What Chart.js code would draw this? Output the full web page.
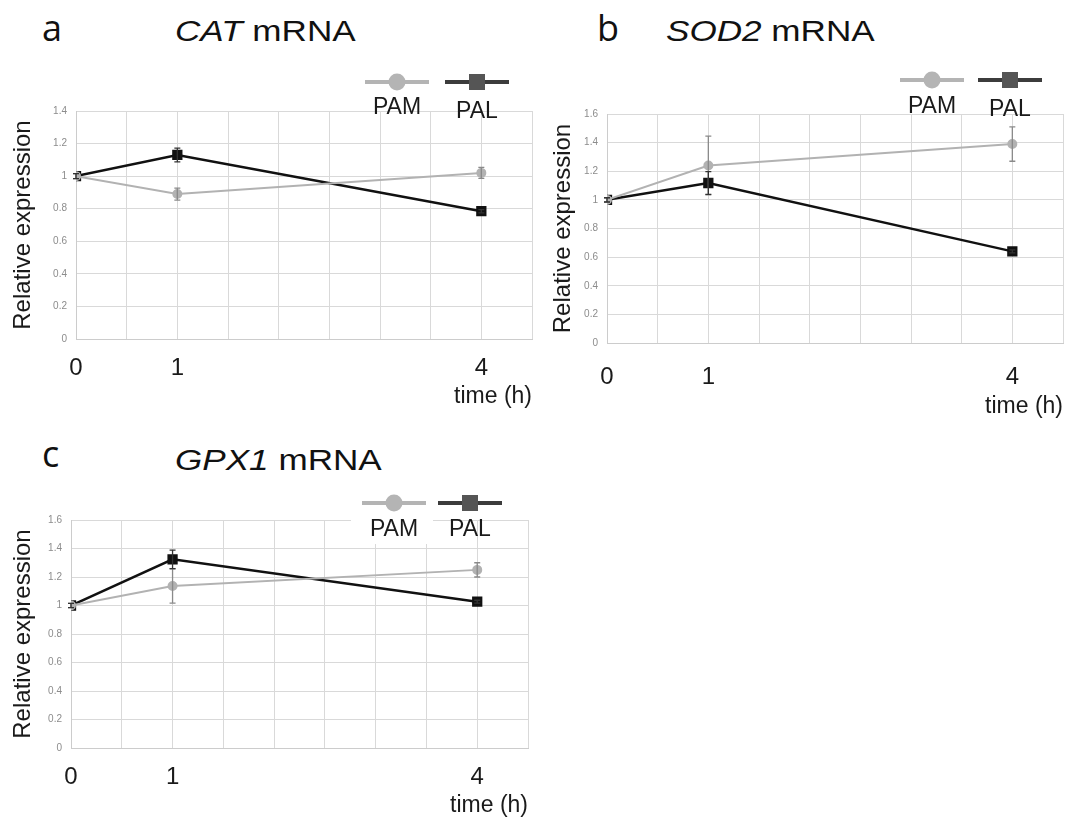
<!DOCTYPE html>
<html>
<head>
<meta charset="utf-8">
<script src="https://cdn.jsdelivr.net/npm/chart.js@4.4.1/dist/chart.umd.min.js"></script>
<style>
    html, body { margin: 0; padding: 0; background: #fff; }
    body { width: 1083px; height: 819px; position: relative; overflow: hidden; }
    .panel { position: absolute; }
    .letter { position: absolute; font-family: "Open Sans", sans-serif; font-size: 36px; line-height: 1; color: #111; }
    .title { position: absolute; font-family: "Liberation Sans", Arial, sans-serif; font-size: 30px; line-height: 1; color: #111;
             white-space: nowrap; transform: scaleX(1.17); transform-origin: left top; }
</style>
</head>
<body>

<div class="letter" style="left:42px;top:10px">a</div>
<div class="title" style="left:175px;top:16px"><i>CAT</i> mRNA</div>
<div class="letter" style="left:597px;top:10px">b</div>
<div class="title" style="left:666px;top:16px"><i>SOD2</i> mRNA</div>
<div class="letter" style="left:42px;top:436px">c</div>
<div class="title" style="left:175px;top:445px"><i>GPX1</i> mRNA</div>

<div class="panel" style="left:0;top:0"><canvas id="chartA" width="540" height="410"></canvas></div>
<div class="panel" style="left:540px;top:0"><canvas id="chartB" width="543" height="420"></canvas></div>
<div class="panel" style="left:0;top:430px"><canvas id="chartC" width="540" height="389"></canvas></div>

<script>
// data
var timePoints = [0, 1, 4];
var xTickLabels = ['0', '1', '4'];
var seriesNames = ['PAM', 'PAL'];

var catPAM = [1.00, 0.89, 1.02];
var catPAMErr = [0.015, 0.037, 0.034];
var catPAL = [1.00, 1.13, 0.785];
var catPALErr = [0.015, 0.042, 0.01];

var sodPAM = [1.00, 1.24, 1.39];
var sodPAMErr = [0.015, 0.205, 0.12];
var sodPAL = [1.00, 1.118, 0.64];
var sodPALErr = [0.015, 0.08, 0.01];

var gpxPAM = [1.00, 1.137, 1.25];
var gpxPAMErr = [0.015, 0.12, 0.05];
var gpxPAL = [1.00, 1.324, 1.027];
var gpxPALErr = [0.015, 0.065, 0.01];

var FONT = '"Liberation Sans", Arial, sans-serif';
var PAM_COLOR = '#b2b2b2';
var PAL_COLOR = '#111111';

function toPoints(values) {
    return values.map(function (v, i) { return { x: timePoints[i], y: v }; });
}

// vertical error bars with caps
var errorBars = {
    id: 'errorBars',
    afterDatasetsDraw: function (chart) {
        var ctx = chart.ctx;
        var yScale = chart.scales.y;
        chart.data.datasets.forEach(function (ds, di) {
            var meta = chart.getDatasetMeta(di);
            ctx.save();
            ctx.strokeStyle = ds.errorColor;
            ctx.lineWidth = 1.3;
            meta.data.forEach(function (pt, i) {
                var v = ds.data[i].y;
                var e = ds.errors[i];
                var top = yScale.getPixelForValue(v + e);
                var bot = yScale.getPixelForValue(v - e);
                ctx.beginPath();
                ctx.moveTo(pt.x, top);
                ctx.lineTo(pt.x, bot);
                ctx.moveTo(pt.x - 3, top);
                ctx.lineTo(pt.x + 3, top);
                ctx.moveTo(pt.x - 3, bot);
                ctx.lineTo(pt.x + 3, bot);
                ctx.stroke();
            });
            ctx.restore();
        });
    }
};

// legend with the label under its marker
var markerLegend = {
    id: 'markerLegend',
    afterDraw: function (chart, args, opts) {
        var ctx = chart.ctx;
        var area = chart.chartArea;
        var pamX = area.right + opts.pamDx;
        var palX = area.right + opts.palDx;
        var lineY = area.top + opts.lineDy;

        if (opts.whiteBox) {
            ctx.fillStyle = '#fff';
            ctx.fillRect(pamX - 43, area.top - 4, 82, 28);
        }

        ctx.save();
        ctx.lineWidth = 4;
        ctx.strokeStyle = '#b4b4b4';
        ctx.beginPath();
        ctx.moveTo(pamX - 32, lineY);
        ctx.lineTo(pamX + 32, lineY);
        ctx.stroke();
        ctx.fillStyle = '#b4b4b4';
        ctx.beginPath();
        ctx.arc(pamX, lineY, 8.5, 0, Math.PI * 2);
        ctx.fill();

        ctx.strokeStyle = '#3c3c3c';
        ctx.beginPath();
        ctx.moveTo(palX - 32, lineY);
        ctx.lineTo(palX + 32, lineY);
        ctx.stroke();
        ctx.fillStyle = '#555';
        ctx.fillRect(palX - 8, lineY - 8, 16, 16);

        ctx.fillStyle = '#1a1a1a';
        ctx.font = '23px ' + FONT;
        ctx.textAlign = 'center';
        ctx.textBaseline = 'middle';
        ctx.fillText(seriesNames[0], pamX, area.top + opts.pamTextDy);
        ctx.fillText(seriesNames[1], palX, area.top + opts.palTextDy);
        ctx.restore();
    }
};

function makeChart(id, cfg) {
    var ctx = document.getElementById(id);
    return new Chart(ctx, {
        type: 'line',
        data: {
            datasets: [{
                label: seriesNames[0],
                data: toPoints(cfg.pam),
                errors: cfg.pamErr,
                errorColor: '#8a8a8a',
                borderColor: PAM_COLOR,
                backgroundColor: PAM_COLOR,
                borderWidth: 2,
                pointStyle: 'circle',
                pointRadius: 4,
                tension: 0
            }, {
                label: seriesNames[1],
                data: toPoints(cfg.pal),
                errors: cfg.palErr,
                errorColor: '#333',
                borderColor: PAL_COLOR,
                backgroundColor: PAL_COLOR,
                borderWidth: 2.5,
                pointStyle: 'rect',
                pointRadius: 5.5,
                tension: 0
            }]
        },
        options: {
            responsive: false,
            animation: false,
            events: [],
            layout: {
                padding: { left: 6, top: cfg.padTop, right: cfg.padRight, bottom: 0 }
            },
            plugins: {
                legend: { display: false },
                tooltip: { enabled: false },
                markerLegend: cfg.legend
            },
            scales: {
                x: {
                    type: 'linear',
                    min: 0,
                    max: 4.5,
                    grid: { color: '#d9d9d9', lineWidth: 1, drawTicks: false },
                    border: { color: '#cccccc' },
                    ticks: {
                        stepSize: 0.5,
                        autoSkip: false,
                        maxRotation: 0,
                        padding: 0,
                        color: '#1a1a1a',
                        // tall line box pushes the numbers down without adding side padding
                        font: { family: FONT, size: 24, lineHeight: (cfg.tickDrop * 2) + 'px' },
                        callback: function (v) {
                            var i = timePoints.indexOf(v);
                            return i >= 0 ? xTickLabels[i] : '';
                        }
                    },
                    title: {
                        display: true,
                        text: 'time (h)',
                        align: 'end',
                        color: '#1a1a1a',
                        font: { family: FONT, size: 23 },
                        padding: { top: 0, bottom: 0 }
                    },
                    afterFit: function (scale) { scale.height = cfg.xHeight; }
                },
                y: {
                    min: 0,
                    max: cfg.yMax,
                    grid: { color: '#d9d9d9', lineWidth: 1, drawTicks: false },
                    border: { color: '#cccccc' },
                    ticks: {
                        stepSize: 0.2,
                        padding: 9,
                        color: '#8c8c8c',
                        font: { family: FONT, size: 10 },
                        callback: function (v) { return String(Number(v.toFixed(1))); }
                    },
                    title: {
                        display: true,
                        text: 'Relative expression',
                        color: '#1a1a1a',
                        font: { family: FONT, size: 24 },
                        padding: { top: 3, bottom: 0 }
                    },
                    afterFit: function (scale) { scale.width = cfg.yWidth; }
                }
            }
        },
        plugins: [errorBars, markerLegend]
    });
}

makeChart('chartA', {
    pam: catPAM, pamErr: catPAMErr, pal: catPAL, palErr: catPALErr,
    yMax: 1.4,
    padTop: 111, padRight: 7, yWidth: 70, xHeight: 71, tickDrop: 29,
    legend: { pamDx: -135, palDx: -55, lineDy: -29, pamTextDy: -3, palTextDy: 1 }
});

makeChart('chartB', {
    pam: sodPAM, pamErr: sodPAMErr, pal: sodPAL, palErr: sodPALErr,
    yMax: 1.6,
    padTop: 114, padRight: 20, yWidth: 61, xHeight: 77, tickDrop: 34,
    legend: { pamDx: -131, palDx: -53, lineDy: -34, pamTextDy: -7, palTextDy: -4 }
});

makeChart('chartC', {
    pam: gpxPAM, pamErr: gpxPAMErr, pal: gpxPAL, palErr: gpxPALErr,
    yMax: 1.6,
    padTop: 90, padRight: 12, yWidth: 65, xHeight: 71, tickDrop: 29,
    legend: { pamDx: -134, palDx: -58, lineDy: -17, pamTextDy: 10, palTextDy: 10, whiteBox: true }
});
</script>
</body>
</html>
